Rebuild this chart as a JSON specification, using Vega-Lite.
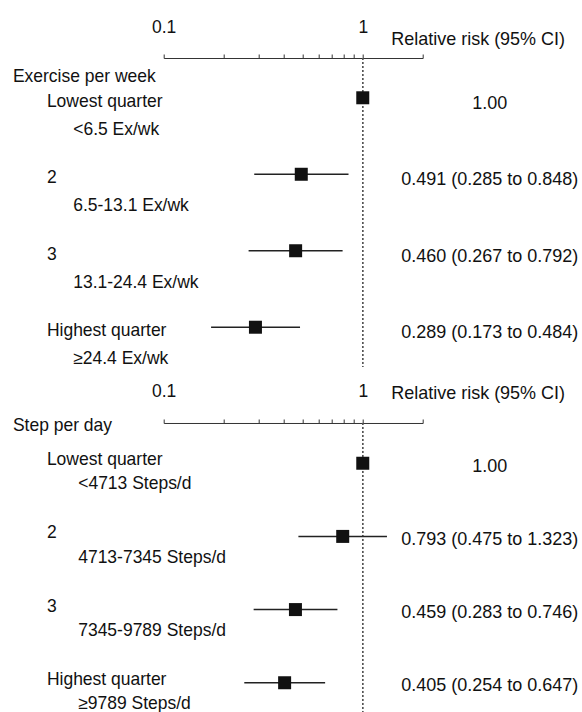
{
  "$schema": "https://vega.github.io/schema/vega-lite/v6.json",
  "padding": {"left": 11.7, "top": 18, "right": 0, "bottom": 0},
  "config": {
    "font": "Liberation Sans",
    "view": {"stroke": null},
    "axis": {"labelColor": "#111", "titleColor": "#111", "grid": false}
  },
  "data": {
    "values": [
      {"group": "Exercise per week", "rank": 1, "quarter": "Lowest quarter", "range": "<6.5 Ex/wk", "rr": 1.0, "lo": null, "hi": null, "est": "1.00"},
      {"group": "Exercise per week", "rank": 2, "quarter": "2", "range": "6.5-13.1 Ex/wk", "rr": 0.491, "lo": 0.285, "hi": 0.848, "est": "0.491 (0.285 to 0.848)"},
      {"group": "Exercise per week", "rank": 3, "quarter": "3", "range": "13.1-24.4 Ex/wk", "rr": 0.46, "lo": 0.267, "hi": 0.792, "est": "0.460 (0.267 to 0.792)"},
      {"group": "Exercise per week", "rank": 4, "quarter": "Highest quarter", "range": "≥24.4 Ex/wk", "rr": 0.289, "lo": 0.173, "hi": 0.484, "est": "0.289 (0.173 to 0.484)"},
      {"group": "Step per day", "rank": 1, "quarter": "Lowest quarter", "range": "<4713 Steps/d", "rr": 1.0, "lo": null, "hi": null, "est": "1.00"},
      {"group": "Step per day", "rank": 2, "quarter": "2", "range": "4713-7345 Steps/d", "rr": 0.793, "lo": 0.475, "hi": 1.323, "est": "0.793 (0.475 to 1.323)"},
      {"group": "Step per day", "rank": 3, "quarter": "3", "range": "7345-9789 Steps/d", "rr": 0.459, "lo": 0.283, "hi": 0.746, "est": "0.459 (0.283 to 0.746)"},
      {"group": "Step per day", "rank": 4, "quarter": "Highest quarter", "range": "≥9789 Steps/d", "rr": 0.405, "lo": 0.254, "hi": 0.647, "est": "0.405 (0.254 to 0.647)"}
    ]
  },
  "bounds": "flush",
  "spacing": 56,
  "vconcat": [
    {
      "width": 259,
      "height": 309,
      "transform": [
        {"filter": "datum.group == 'Exercise per week'"},
        {"calculate": "datum.quarter + '|' + datum.range + '|' + datum.est", "as": "key"}
      ],
      "layer": [
        {
          "mark": {"type": "rule", "strokeDash": [2, 2], "color": "#555", "strokeWidth": 1},
          "encoding": {
            "x": {
              "datum": 1, "type": "quantitative",
              "scale": {"type": "log", "domain": [0.1, 2], "nice": false},
              "axis": {
                "orient": "top",
                "values": [0.1, 0.2, 0.3, 0.4, 0.5, 0.6, 0.7, 0.8, 0.9, 1, 2],
                "format": "~g",
                "labelExpr": "datum.value == 0.1 || datum.value == 1 ? datum.label : ''",
                "labelFontSize": 17.5, "labelPadding": 18, "labelOverlap": false, "labelFlush": false,
                "tickSize": 4, "tickColor": "#333", "domainColor": "#333",
                "title": "Relative risk (95% CI)", "titleX": 227, "titleY": -19,
                "titleAlign": "left", "titleBaseline": "middle", "titleAngle": 0,
                "titleFontWeight": "normal", "titleFontSize": 18
              }
            }
          }
        },
        {
          "transform": [{"filter": "isValid(datum.lo)"}],
          "mark": {"type": "rule", "strokeWidth": 1.5, "color": "#222"},
          "encoding": {
            "x": {"field": "lo", "type": "quantitative"},
            "x2": {"field": "rr"},
            "y": {
              "field": "key", "type": "nominal",
              "sort": {"field": "rank", "op": "min"},
              "scale": {"type": "point", "padding": 0.52},
              "axis": {
                "orient": "left", "domain": false, "ticks": false, "tickSize": 0,
                "labelExpr": "split(datum.value, '|')[0]",
                "labelAlign": "left", "labelBaseline": "middle", "labelPadding": 117.3,
                "labelOffset": 3.6, "labelFontSize": 17.5,
                "labelLimit": 400, "labelOverlap": false,
                "title": "Exercise per week", "titleAngle": 0, "titleAlign": "left",
                "titleBaseline": "middle", "titleX": -151.3, "titleY": 18.7,
                "titleFontWeight": "normal", "titleFontSize": 17.5
              }
            }
          }
        },
        {
          "transform": [{"filter": "isValid(datum.hi)"}],
          "mark": {"type": "rule", "strokeWidth": 1.5, "color": "#222"},
          "encoding": {
            "x": {"field": "rr", "type": "quantitative"},
            "x2": {"field": "hi"},
            "y": {
              "field": "key", "type": "nominal",
              "sort": {"field": "rank", "op": "min"},
              "axis": {
                "orient": "left", "domain": false, "ticks": false, "tickSize": 0,
                "labelExpr": "split(datum.value, '|')[1]",
                "labelAlign": "left", "labelBaseline": "middle", "labelPadding": 91,
                "labelOffset": 31.3, "labelFontSize": 17.5,
                "labelLimit": 400, "labelOverlap": false,
                "title": null
              }
            }
          }
        },
        {
          "mark": {"type": "square", "size": 169, "color": "#111", "opacity": 1},
          "encoding": {
            "x": {"field": "rr", "type": "quantitative"},
            "y": {
              "field": "key", "type": "nominal",
              "sort": {"field": "rank", "op": "min"},
              "axis": {
                "orient": "right", "domain": false, "ticks": false, "tickSize": 0,
                "labelExpr": "split(datum.value, '|')[2]",
                "labelAlign": "center", "labelBaseline": "middle", "labelPadding": 66.5,
                "labelOffset": 5.6, "labelFontSize": 18, "labelLimit": 400, "labelOverlap": false,
                "title": null
              }
            }
          }
        }
      ],
      "resolve": {"axis": {"y": "independent"}}
    },
    {
      "width": 259,
      "height": 300,
      "transform": [
        {"filter": "datum.group == 'Step per day'"},
        {"calculate": "datum.quarter + '|' + datum.range + '|' + datum.est", "as": "key"}
      ],
      "layer": [
        {
          "mark": {"type": "rule", "strokeDash": [2, 2], "color": "#555", "strokeWidth": 1},
          "encoding": {
            "x": {
              "datum": 1, "type": "quantitative",
              "scale": {"type": "log", "domain": [0.1, 2], "nice": false},
              "axis": {
                "orient": "top",
                "values": [0.1, 0.2, 0.3, 0.4, 0.5, 0.6, 0.7, 0.8, 0.9, 1, 2],
                "format": "~g",
                "labelExpr": "datum.value == 0.1 || datum.value == 1 ? datum.label : ''",
                "labelFontSize": 17.5, "labelPadding": 18, "labelOverlap": false, "labelFlush": false,
                "tickSize": 4, "tickColor": "#333", "domainColor": "#333",
                "title": "Relative risk (95% CI)", "titleX": 227, "titleY": -29,
                "titleAlign": "left", "titleBaseline": "middle", "titleAngle": 0,
                "titleFontWeight": "normal", "titleFontSize": 18
              }
            }
          }
        },
        {
          "transform": [{"filter": "isValid(datum.lo)"}],
          "mark": {"type": "rule", "strokeWidth": 1.5, "color": "#222"},
          "encoding": {
            "x": {"field": "lo", "type": "quantitative"},
            "x2": {"field": "rr"},
            "y": {
              "field": "key", "type": "nominal",
              "sort": {"field": "rank", "op": "min"},
              "scale": {"type": "point", "padding": 0.55},
              "axis": {
                "orient": "left", "domain": false, "ticks": false, "tickSize": 0,
                "labelExpr": "split(datum.value, '|')[0]",
                "labelAlign": "left", "labelBaseline": "middle", "labelPadding": 117.3,
                "labelOffset": -3.5, "labelFontSize": 17.5,
                "labelLimit": 400, "labelOverlap": false,
                "title": "Step per day", "titleAngle": 0, "titleAlign": "left",
                "titleBaseline": "middle", "titleX": -151.3, "titleY": 3,
                "titleFontWeight": "normal", "titleFontSize": 17.5
              }
            }
          }
        },
        {
          "transform": [{"filter": "isValid(datum.hi)"}],
          "mark": {"type": "rule", "strokeWidth": 1.5, "color": "#222"},
          "encoding": {
            "x": {"field": "rr", "type": "quantitative"},
            "x2": {"field": "hi"},
            "y": {
              "field": "key", "type": "nominal",
              "sort": {"field": "rank", "op": "min"},
              "axis": {
                "orient": "left", "domain": false, "ticks": false, "tickSize": 0,
                "labelExpr": "split(datum.value, '|')[1]",
                "labelAlign": "left", "labelBaseline": "middle", "labelPadding": 86,
                "labelOffset": 20.6, "labelFontSize": 17.5,
                "labelLimit": 400, "labelOverlap": false,
                "title": null
              }
            }
          }
        },
        {
          "mark": {"type": "square", "size": 169, "color": "#111", "opacity": 1},
          "encoding": {
            "x": {"field": "rr", "type": "quantitative"},
            "y": {
              "field": "key", "type": "nominal",
              "sort": {"field": "rank", "op": "min"},
              "axis": {
                "orient": "right", "domain": false, "ticks": false, "tickSize": 0,
                "labelExpr": "split(datum.value, '|')[2]",
                "labelAlign": "center", "labelBaseline": "middle", "labelPadding": 66.5,
                "labelOffset": 3, "labelFontSize": 18, "labelLimit": 400, "labelOverlap": false,
                "title": null
              }
            }
          }
        }
      ],
      "resolve": {"axis": {"y": "independent"}}
    }
  ]
}
